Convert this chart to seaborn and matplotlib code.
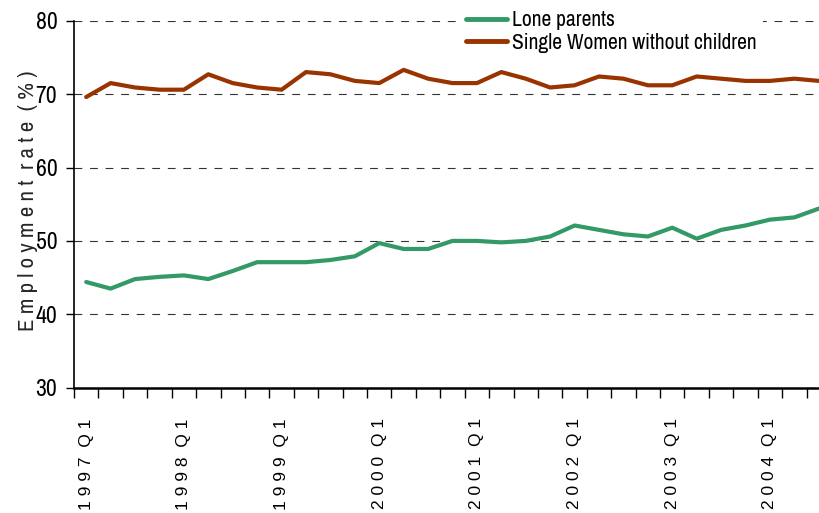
import numpy as np
import pandas as pd
import matplotlib
matplotlib.use("Agg")
import matplotlib.pyplot as plt
import seaborn as sns

# quarterly series, 1997 Q1 .. 2004 Q3
years = list(range(1997, 2005))
quarters = ["%d Q%d" % (y, q) for y in years for q in range(1, 5)][:31]
lone_parents = [44.4, 43.5, 44.8, 45.1, 45.3, 44.8, 45.9, 47.1, 47.1, 47.1,
                47.4, 47.9, 49.7, 48.9, 48.9, 50.0, 50.0, 49.8, 50.0, 50.6,
                52.1, 51.5, 50.9, 50.6, 51.8, 50.3, 51.5, 52.1, 52.9, 53.2, 54.4]
single_women = [69.6, 71.5, 70.9, 70.6, 70.6, 72.7, 71.5, 70.9, 70.6, 73.0,
                72.7, 71.8, 71.5, 73.3, 72.1, 71.5, 71.5, 73.0, 72.1, 70.9,
                71.2, 72.4, 72.1, 71.2, 71.2, 72.4, 72.1, 71.8, 71.8, 72.1, 71.8]
series_names = ["Lone parents", "Single Women without children"]
colors = ["#339966", "#993300"]

df = pd.DataFrame({
    "idx": list(range(len(quarters))) * 2,
    "rate": lone_parents + single_women,
    "series": [series_names[0]] * len(quarters) + [series_names[1]] * len(quarters),
})

sns.set_style("white")
narrow = ["Archivo Narrow", "DejaVu Sans"]
plt.rcParams["font.family"] = narrow

fig = plt.figure(figsize=(8.2, 5.13), dpi=100)
ax = fig.add_axes([74/820, 125.3/513, 757/820, 367/513])

sns.lineplot(data=df, x="idx", y="rate", hue="series", hue_order=series_names,
             palette=colors, linewidth=3, ax=ax, zorder=3)

ax.set_xlim(-0.5, len(quarters) - 0.5)
ax.set_ylim(30, 80)
ax.set_yticks(range(30, 81, 10))
ax.yaxis.grid(True, color="#333333", linestyle=(0, (7, 7)), linewidth=0.8)
ax.xaxis.grid(False)
for s in ["top", "right"]:
    ax.spines[s].set_visible(False)
for s in ["left", "bottom"]:
    ax.spines[s].set_color("black")
ax.spines["left"].set_linewidth(1.2)
ax.spines["bottom"].set_linewidth(1.8)

# ticks between quarters, labels on each Q1
ax.set_xticks(np.arange(-0.5, len(quarters), 1))
ax.set_xticklabels([])
lab_pos = list(range(0, len(quarters), 4))
ax.set_xticks(lab_pos, minor=True)
ax.set_xticklabels(["  ".join([" ".join(q.split()[0]), " ".join(q.split()[1])])
                    for q in [quarters[i] for i in lab_pos]],
                   minor=True, rotation=90, fontsize=12.5)
ax.tick_params(axis="x", which="major", direction="out", length=7, width=1, bottom=True, color="black")
ax.tick_params(axis="x", which="minor", length=0, pad=22)
ax.tick_params(axis="y", direction="out", length=5.5, width=1, left=True, color="black",
               labelsize=17, pad=6.5)
for t in ax.get_xticklabels(minor=True):
    t.set_family("Liberation Sans")
    t.set_color("black")
for t in ax.get_yticklabels():
    t.set_color("black")

ax.set_xlabel("")
ax.set_ylabel("E m p l o y m e n t  r a t e  ( % )", fontsize=16.5)
ax.yaxis.set_label_coords(-0.048, 0.51)

leg = ax.legend(loc="upper left", bbox_to_anchor=(460/820, 1 - 4/513), bbox_transform=fig.transFigure,
                borderaxespad=0, borderpad=0.3, handlelength=1.9, handletextpad=0.2,
                labelspacing=0.1, fontsize=15.5, frameon=True, fancybox=False)
leg.get_frame().set_edgecolor("none")
leg.get_frame().set_facecolor("white")
leg.get_frame().set_alpha(1)
for line in leg.get_lines():
    line.set_linewidth(3.5)
for t in leg.get_texts():
    t.set_color("black")

fig.savefig("out.png", dpi=100)
